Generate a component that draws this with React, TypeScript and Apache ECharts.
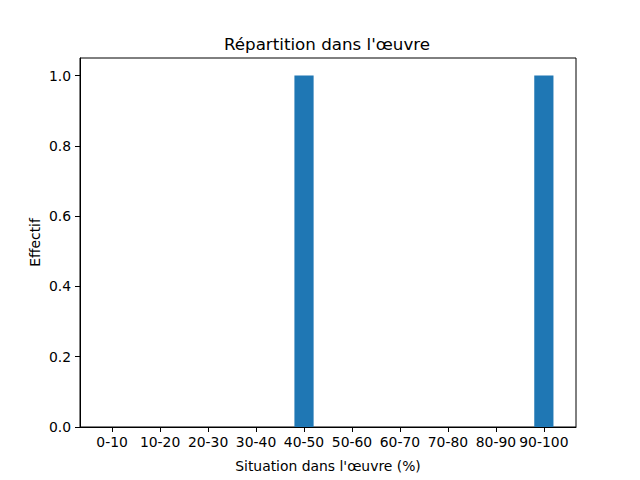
import React, { useEffect, useRef } from "react";
import * as echarts from "echarts";

const categories = ["0-10", "10-20", "20-30", "30-40", "40-50", "50-60", "60-70", "70-80", "80-90", "90-100"];
const counts = [0, 0, 0, 0, 1, 0, 0, 0, 0, 1];
const yTicks = [0, 0.2, 0.4, 0.6, 0.8, 1.0];
const titleText = "Répartition dans l'œuvre";
const xName = "Situation dans l'œuvre (%)";
const yName = "Effectif";

export default function App() {
  const ref = useRef<HTMLDivElement>(null);
  useEffect(() => {
    if (!ref.current) return;
    const chart = echarts.init(ref.current, null, { renderer: "svg" });
    const font = "DejaVu Sans";
    const idx = categories.map((_, i) => i);
    chart.setOption({
      animation: false,
      backgroundColor: "#ffffff",
      textStyle: { fontFamily: font },
      title: {
        text: titleText,
        left: 322,
        top: 30,
        textAlign: "center",
        textStyle: { fontFamily: font, fontSize: 16.7, fontWeight: "normal", color: "#000" },
      },
      grid: {
        left: 80,
        top: 58,
        width: 496,
        height: 369,
        show: true,
        borderColor: "#000",
        borderWidth: 1,
        backgroundColor: "transparent",
      },
      xAxis: {
        type: "value",
        min: -0.67,
        max: 9.67,
        name: xName,
        nameLocation: "middle",
        nameGap: 32,
        nameMoveOverlap: false,
        nameTextStyle: { fontFamily: font, fontSize: 13.9, color: "#000" },
        axisLine: { show: true, onZero: false, lineStyle: { color: "#000", width: 1 } },
        axisTick: { show: true, inside: false, length: 5, customValues: idx, lineStyle: { color: "#000" } },
        axisLabel: {
          customValues: idx,
          margin: 8,
          fontFamily: font,
          fontSize: 13.9,
          color: "#000",
          formatter: (v: number) => categories[Math.round(v)] ?? "",
        },
        splitLine: { show: false },
      },
      yAxis: {
        type: "value",
        min: 0,
        max: 1.05,
        name: yName,
        nameLocation: "middle",
        nameGap: 38,
        nameMoveOverlap: false,
        nameTextStyle: { fontFamily: font, fontSize: 13.9, color: "#000" },
        axisLine: { show: true, onZero: false, lineStyle: { color: "#000", width: 1 } },
        axisTick: { show: true, inside: false, length: 5, customValues: yTicks, lineStyle: { color: "#000" } },
        axisLabel: {
          customValues: yTicks,
          margin: 9,
          fontFamily: font,
          fontSize: 13.9,
          color: "#000",
          formatter: (v: number) => v.toFixed(1),
        },
        splitLine: { show: false },
      },
      series: [
        {
          type: "bar",
          data: counts.map((c, i) => [i, c]),
          barWidth: 19.2,
          itemStyle: { color: "#1f77b4" },
        },
      ],
    });
    return () => chart.dispose();
  }, []);
  return (
    <div
      ref={ref}
      style={{ position: "fixed", left: 0, top: 0, width: 640, height: 480 }}
    />
  );
}
